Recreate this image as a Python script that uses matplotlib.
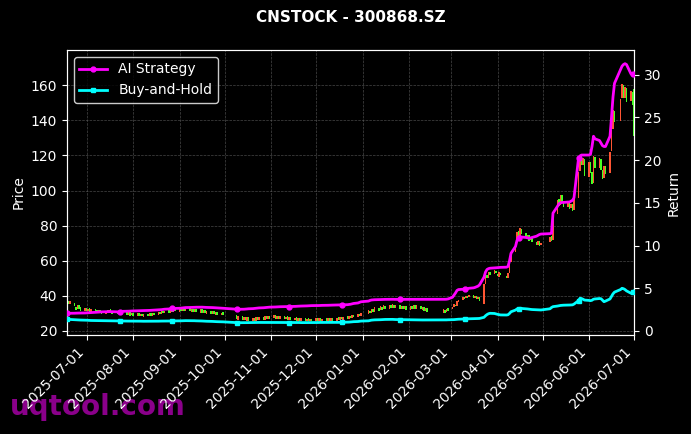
import numpy as np
import pandas as pd
import matplotlib
matplotlib.use("Agg")
import matplotlib.pyplot as plt
import matplotlib.dates as mdates

# ---- calendar ----
START, END = "2025-06-18", "2026-07-01"
HOLIDAYS = ["2025-10-01", "2025-10-02", "2025-10-03", "2025-10-06", "2025-10-07", "2025-10-08",
            "2026-01-01", "2026-01-02",
            "2026-02-16", "2026-02-17", "2026-02-18", "2026-02-19", "2026-02-20", "2026-02-23",
            "2026-04-06", "2026-05-01", "2026-05-04", "2026-05-05", "2026-06-19"]

# ---- daily candles (open / close) per month ----
open_jun25 = [33.8, 37.2, 35.4, 36.0, 33.6, 32.4, 34.6, 33.8, 31.6]
close_jun25 = [37.8, 35.2, 36.8, 34.0, 32.2, 34.8, 32.6, 31.4, 33.0]
open_jul25 = [33.2, 31.4, 32.9, 30.8, 32.4, 31.9, 30.4, 32.2, 31.5, 29.9, 31.8, 30.6, 32.3, 31.5, 30.2, 31.4, 29.6, 30.9, 29.4, 30.8, 29.3, 30.6, 28.9]
close_jul25 = [31.2, 32.8, 30.9, 32.3, 30.6, 30.2, 32.0, 30.4, 29.8, 31.6, 30.4, 32.1, 30.8, 29.9, 31.6, 29.5, 30.8, 29.2, 30.9, 29.0, 30.7, 28.8, 30.2]
open_aug25 = [30.4, 28.6, 30.2, 28.4, 29.9, 28.2, 29.8, 28.6, 30.3, 28.7, 30.5, 29.2, 31.0, 29.6, 31.4, 30.1, 31.8, 30.5, 32.6, 31.0, 32.9]
close_aug25 = [28.7, 30.1, 28.5, 29.9, 28.3, 29.7, 28.4, 30.1, 28.8, 30.3, 29.1, 30.8, 29.5, 31.2, 30.0, 31.6, 30.4, 32.3, 30.9, 32.8, 31.2]
open_sep25 = [31.0, 33.2, 31.2, 33.4, 31.5, 33.0, 31.0, 32.8, 30.8, 32.6, 30.5, 32.4, 30.3, 31.9, 29.8, 31.6, 29.6, 31.2, 29.3, 30.9, 29.0, 30.6]
close_sep25 = [32.9, 31.3, 33.3, 31.4, 33.2, 31.1, 32.7, 30.9, 32.5, 30.6, 32.3, 30.4, 31.8, 30.0, 31.5, 29.7, 31.1, 29.4, 30.8, 29.1, 30.4, 28.9]
open_oct25 = [28.9, 26.5, 28.4, 26.2, 28.0, 25.9, 27.8, 25.8, 27.6, 25.7, 27.9, 26.0, 28.2, 26.3, 28.5, 26.6, 28.7]
close_oct25 = [26.6, 28.3, 26.3, 27.9, 26.0, 27.7, 25.9, 27.5, 25.8, 27.8, 26.1, 28.1, 26.4, 28.4, 26.7, 28.6, 27.0]
open_nov25 = [27.2, 29.0, 27.0, 28.8, 26.8, 28.6, 26.6, 28.3, 26.3, 28.0, 26.0, 27.7, 25.8, 27.5, 25.6, 27.3, 25.5, 27.2, 25.4, 27.1]
close_nov25 = [28.9, 27.1, 28.7, 26.9, 28.5, 26.7, 28.2, 26.4, 27.9, 26.1, 27.6, 25.9, 27.4, 25.7, 27.2, 25.5, 27.1, 25.4, 27.0, 25.6]
open_dec25 = [25.6, 27.4, 25.5, 27.3, 25.4, 27.2, 25.5, 27.4, 25.6, 27.5, 25.8, 27.7, 26.1, 28.0, 26.5, 28.3, 26.8, 28.8, 27.4, 29.2, 27.9, 29.8, 28.5]
close_dec25 = [27.3, 25.6, 27.2, 25.5, 27.1, 25.6, 27.3, 25.7, 27.4, 25.9, 27.6, 26.2, 27.9, 26.6, 28.2, 26.9, 28.7, 27.5, 29.1, 28.0, 29.7, 28.6, 30.4]
open_jan26 = [29.6, 31.6, 30.4, 32.3, 31.0, 33.2, 31.8, 33.9, 32.4, 34.5, 32.8, 34.8, 33.0, 35.0, 32.9, 34.6, 32.6, 34.3, 32.3, 34.0]
close_jan26 = [31.8, 30.2, 32.5, 30.9, 33.4, 31.6, 34.1, 32.2, 34.7, 32.7, 35.0, 32.9, 35.2, 33.1, 34.8, 32.7, 34.5, 32.4, 34.2, 32.1]
open_feb26 = [32.0, 34.3, 32.4, 34.8, 32.8, 34.5, 32.2, 33.8, 31.4, 33.0, 30.4, 32.2, 30.6, 33.0]
close_feb26 = [34.1, 32.3, 34.6, 32.6, 34.9, 32.4, 33.9, 31.5, 33.2, 30.6, 32.3, 30.5, 32.8, 31.2]
open_mar26 = [32.5, 33.6, 35.0, 34.5, 36.6, 37.7, 39.4, 38.5, 40.0, 39.1, 40.4, 38.8, 39.7, 38.4, 39.3, 35.5, 46.8, 51.8, 50.2, 53.5, 52.2, 54.3]
close_mar26 = [33.8, 35.2, 34.2, 36.8, 37.9, 39.6, 38.3, 40.2, 38.9, 40.6, 38.7, 39.9, 38.2, 39.5, 37.0, 46.5, 51.5, 50.0, 53.8, 52.0, 54.5, 52.8]
open_apr26 = [52.6, 51.0, 53.2, 51.5, 50.0, 53.1, 59.2, 65.0, 71.0, 76.8, 74.0, 78.3, 75.8, 73.2, 74.6, 71.8, 73.4, 70.5, 69.2, 71.3, 68.8]
close_apr26 = [51.2, 53.4, 51.8, 50.2, 52.9, 58.8, 64.5, 70.8, 76.5, 74.2, 78.6, 75.5, 73.0, 74.8, 71.5, 73.6, 70.8, 69.0, 71.5, 68.6, 70.4]
open_may26 = [70.6, 74.0, 72.0, 86.5, 95.0, 91.5, 97.2, 93.8, 90.6, 93.5, 89.8, 92.2, 88.8, 96.0, 111.0, 120.0, 114.8, 118.2]
close_may26 = [73.8, 71.2, 86.0, 94.8, 91.2, 97.6, 93.5, 90.4, 93.8, 89.6, 92.5, 88.6, 95.5, 110.5, 120.5, 114.5, 118.6, 108.5]
open_jun26 = [108.0, 116.0, 110.5, 104.5, 119.0, 113.0, 118.2, 111.8, 107.0, 114.0, 109.8, 122.5, 135.0, 145.5, 139.5, 152.5, 160.0, 152.8, 158.5, 151.0, 156.0, 158.0]
close_jun26 = [116.5, 110.2, 104.0, 119.5, 112.8, 118.6, 111.5, 106.5, 114.2, 109.5, 122.0, 134.5, 146.0, 139.0, 152.0, 160.5, 152.5, 159.0, 150.5, 156.5, 148.5, 131.0]

# ---- strategy returns (right axis) per month ----
ai_jun25 = [2.07, 2.07, 2.08, 2.08, 2.09, 2.09, 2.10, 2.10, 2.11]
ai_jul25 = [2.12, 2.13, 2.15, 2.16, 2.18, 2.20, 2.21, 2.23, 2.24, 2.25, 2.26, 2.27, 2.27, 2.26, 2.25, 2.24, 2.26, 2.28, 2.30, 2.31, 2.32, 2.33, 2.34]
ai_aug25 = [2.35, 2.36, 2.37, 2.38, 2.38, 2.39, 2.40, 2.41, 2.42, 2.43, 2.44, 2.46, 2.48, 2.50, 2.52, 2.55, 2.58, 2.62, 2.66, 2.65, 2.64]
ai_sep25 = [2.66, 2.68, 2.70, 2.72, 2.74, 2.75, 2.76, 2.77, 2.78, 2.78, 2.79, 2.79, 2.78, 2.77, 2.76, 2.75, 2.74, 2.73, 2.72, 2.70, 2.68, 2.66]
ai_oct25 = [2.56, 2.54, 2.54, 2.55, 2.56, 2.58, 2.60, 2.62, 2.64, 2.66, 2.68, 2.70, 2.72, 2.74, 2.76, 2.78, 2.79]
ai_nov25 = [2.80, 2.81, 2.82, 2.83, 2.84, 2.85, 2.85, 2.86, 2.86, 2.87, 2.88, 2.89, 2.90, 2.91, 2.92, 2.93, 2.94, 2.95, 2.96, 2.97]
ai_dec25 = [2.97, 2.98, 2.98, 2.99, 3.00, 3.00, 3.01, 3.02, 3.02, 3.03, 3.04, 3.05, 3.05, 3.06, 3.07, 3.08, 3.10, 3.13, 3.17, 3.22, 3.28, 3.35, 3.42]
ai_jan26 = [3.50, 3.58, 3.63, 3.65, 3.66, 3.67, 3.68, 3.69, 3.70, 3.70, 3.71, 3.71, 3.71, 3.70, 3.70, 3.70, 3.69, 3.69, 3.69, 3.70]
ai_feb26 = [3.70, 3.70, 3.71, 3.71, 3.71, 3.70, 3.70, 3.70, 3.69, 3.69, 3.70, 3.71, 3.72, 3.75]
ai_mar26 = [3.95, 4.20, 4.45, 4.75, 4.85, 4.88, 4.90, 4.92, 4.95, 5.00, 5.05, 5.10, 5.18, 5.25, 5.40, 6.30, 6.90, 7.20, 7.30, 7.35, 7.38, 7.40]
ai_apr26 = [7.42, 7.44, 7.45, 7.47, 7.55, 8.20, 9.10, 9.90, 10.60, 10.90, 11.05, 11.00, 10.95, 10.90, 10.85, 10.90, 10.95, 11.10, 11.20, 11.30, 11.35]
ai_may26 = [11.40, 11.45, 13.80, 14.60, 14.90, 15.00, 15.05, 15.05, 15.10, 15.10, 15.20, 15.30, 15.60, 20.20, 20.50, 20.60, 20.60, 20.60]
ai_jun26 = [20.60, 20.70, 21.60, 22.80, 22.50, 22.30, 22.00, 21.70, 21.60, 21.60, 22.80, 25.00, 27.40, 29.00, 30.60, 31.00, 31.20, 31.30, 31.20, 30.10, 30.10, 30.10]

bh_jun25 = [1.37, 1.36, 1.34, 1.33, 1.31, 1.30, 1.29, 1.28, 1.27]
bh_jul25 = [1.26, 1.25, 1.24, 1.23, 1.22, 1.22, 1.21, 1.21, 1.20, 1.20, 1.19, 1.19, 1.18, 1.18, 1.17, 1.17, 1.17, 1.16, 1.16, 1.16, 1.16, 1.16, 1.16]
bh_aug25 = [1.16, 1.15, 1.15, 1.15, 1.14, 1.14, 1.14, 1.14, 1.15, 1.15, 1.15, 1.15, 1.16, 1.16, 1.16, 1.17, 1.17, 1.17, 1.18, 1.18, 1.18]
bh_sep25 = [1.19, 1.19, 1.20, 1.20, 1.21, 1.21, 1.20, 1.20, 1.20, 1.19, 1.18, 1.17, 1.16, 1.15, 1.14, 1.13, 1.12, 1.11, 1.10, 1.09, 1.08, 1.07]
bh_oct25 = [0.98, 0.97, 0.97, 0.97, 0.98, 0.98, 0.98, 0.99, 0.99, 0.99, 1.00, 1.00, 1.00, 1.01, 1.01, 1.01, 1.01]
bh_nov25 = [1.01, 1.01, 1.00, 1.00, 1.00, 0.99, 0.99, 0.99, 0.99, 0.99, 0.99, 0.99, 0.99, 0.99, 0.98, 0.98, 0.98, 0.98, 0.98, 0.99]
bh_dec25 = [0.99, 0.99, 1.00, 1.00, 1.00, 1.00, 1.00, 1.00, 1.01, 1.01, 1.01, 1.01, 1.01, 1.02, 1.02, 1.03, 1.04, 1.05, 1.07, 1.09, 1.11, 1.13, 1.16]
bh_jan26 = [1.19, 1.23, 1.27, 1.29, 1.30, 1.31, 1.32, 1.33, 1.34, 1.35, 1.36, 1.37, 1.36, 1.35, 1.34, 1.33, 1.33, 1.32, 1.32, 1.31]
bh_feb26 = [1.31, 1.31, 1.30, 1.30, 1.30, 1.29, 1.29, 1.29, 1.28, 1.28, 1.28, 1.29, 1.30, 1.31]
bh_mar26 = [1.32, 1.33, 1.35, 1.37, 1.38, 1.39, 1.40, 1.41, 1.42, 1.43, 1.44, 1.45, 1.45, 1.46, 1.47, 1.60, 1.78, 1.92, 2.02, 2.07, 2.05, 2.00]
bh_apr26 = [1.95, 1.92, 1.88, 1.87, 1.90, 2.05, 2.25, 2.45, 2.58, 2.63, 2.66, 2.64, 2.60, 2.58, 2.55, 2.53, 2.51, 2.49, 2.48, 2.47, 2.46]
bh_may26 = [2.60, 2.75, 2.85, 2.92, 2.96, 2.99, 3.01, 3.02, 3.03, 3.04, 3.05, 3.06, 3.15, 3.55, 3.83, 3.80, 3.72, 3.62]
bh_jun26 = [3.58, 3.55, 3.60, 3.72, 3.75, 3.80, 3.78, 3.60, 3.43, 3.50, 3.75, 4.05, 4.35, 4.55, 4.85, 5.00, 4.95, 4.85, 4.70, 4.42, 4.55, 4.70]

opens = np.array(open_jun25 + open_jul25 + open_aug25 + open_sep25 + open_oct25 + open_nov25 + open_dec25
                 + open_jan26 + open_feb26 + open_mar26 + open_apr26 + open_may26 + open_jun26)
closes = np.array(close_jun25 + close_jul25 + close_aug25 + close_sep25 + close_oct25 + close_nov25 + close_dec25
                  + close_jan26 + close_feb26 + close_mar26 + close_apr26 + close_may26 + close_jun26)
ai = np.array(ai_jun25 + ai_jul25 + ai_aug25 + ai_sep25 + ai_oct25 + ai_nov25 + ai_dec25
              + ai_jan26 + ai_feb26 + ai_mar26 + ai_apr26 + ai_may26 + ai_jun26)
bh = np.array(bh_jun25 + bh_jul25 + bh_aug25 + bh_sep25 + bh_oct25 + bh_nov25 + bh_dec25
              + bh_jan26 + bh_feb26 + bh_mar26 + bh_apr26 + bh_may26 + bh_jun26)

dates = pd.bdate_range(START, END)
dates = dates[~dates.isin(pd.to_datetime(HOLIDAYS))]
n = min(len(dates), len(opens), len(closes), len(ai), len(bh))
dates, opens, closes, ai, bh = dates[:n], opens[:n], closes[:n], ai[:n], bh[:n]
x = mdates.date2num(dates.to_pydatetime())

UP, DOWN = "#ff5533", "#44ff22"

fig = plt.figure(figsize=(6.91, 4.34), dpi=100, facecolor="black")
ax = fig.add_axes([67 / 691, 99 / 434, 567 / 691, 285 / 434])
ax.set_facecolor("black")

up = closes >= opens
colors = np.where(up, UP, DOWN)
bottoms = np.minimum(opens, closes)
heights = np.abs(closes - opens)
ax.bar(x, heights, bottom=bottoms, width=1.3, color=colors, linewidth=0, zorder=2)

ax.set_xlim(x[0], x[-1])
ax.set_ylim(17.7, 180.1)
ax.set_yticks([20, 40, 60, 80, 100, 120, 140, 160])
ax.xaxis.set_major_locator(mdates.MonthLocator(bymonthday=1))
ax.xaxis.set_major_formatter(mdates.DateFormatter("%Y-%m-%d"))
plt.setp(ax.get_xticklabels(), rotation=45, ha="right", rotation_mode="default")
ax.grid(True, color="#666666", linestyle="--", linewidth=0.5, alpha=0.7)
ax.set_ylabel("Price", color="white", fontsize=10)
ax.tick_params(colors="white", labelsize=10)
for s in ax.spines.values():
    s.set_color("white")

ax2 = ax.twinx()
ax2.patch.set_visible(False)
ax2.plot(x, ai, color="#ff00ff", lw=2, marker="o", ms=3.5, markevery=25, label="AI Strategy", zorder=3)
ax2.plot(x, bh, color="#00ffff", lw=2, marker="s", ms=3.5, markevery=25, label="Buy-and-Hold", zorder=3)
ax2.set_ylim(-0.47, 32.9)
ax2.set_yticks([0, 5, 10, 15, 20, 25, 30])
ax2.set_ylabel("Return", color="white", fontsize=10)
ax2.tick_params(colors="white", labelsize=10)
for s in ax2.spines.values():
    s.set_color("white")
leg = ax2.legend(loc="upper left", facecolor="black", edgecolor="white", labelcolor="white", fontsize=10)

fig.text(350.5 / 691, 1 - 18 / 434, "CNSTOCK - 300868.SZ", color="white", fontsize=11,
         fontweight="bold", ha="center", va="center")
fig.text(10 / 691, 19 / 434, "uqtool.com", color="#8a008a", fontsize=20, fontweight="bold",
         ha="left", va="baseline", zorder=-1)

fig.savefig("out.png", dpi=100, facecolor="black")
